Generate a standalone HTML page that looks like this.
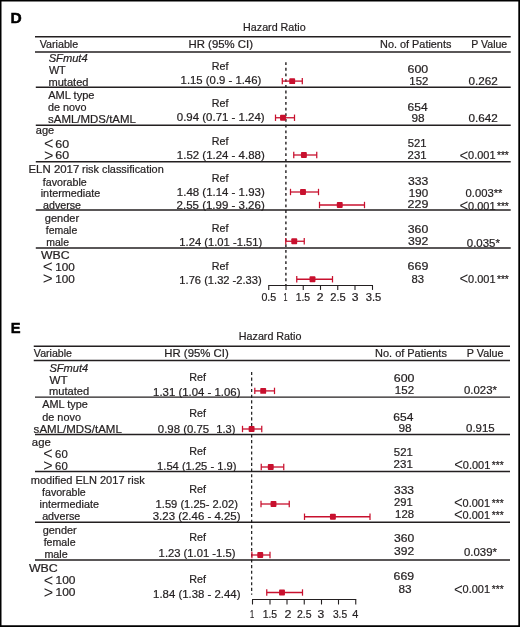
<!DOCTYPE html>
<html lang="en"><head><meta charset="utf-8"><title>Hazard Ratio forest plots</title>
<style>
html,body{margin:0;padding:0;background:#fff}
body{width:520px;height:627px;overflow:hidden;position:relative}
svg{position:absolute;left:0;top:0;display:block}
svg text{font-family:"Liberation Sans",Arial,Helvetica,sans-serif;font-size:11.0px;fill:#231f20;stroke:#231f20;stroke-width:0.22px}
</style></head><body>
<svg width="520" height="627" viewBox="0 0 520 627">
<text x="10.40" y="22.70" textLength="11.21" lengthAdjust="spacingAndGlyphs" font-weight="bold" style="font-size:13.9px;fill:#000;stroke:#000;stroke-width:0.45px">D</text>
<text x="243.07" y="30.95" textLength="62.61" lengthAdjust="spacingAndGlyphs">Hazard Ratio</text>
<line x1="35.00" y1="36.65" x2="510.70" y2="36.65" stroke="#231f20" stroke-width="1.5"/>
<line x1="35.00" y1="51.90" x2="510.70" y2="51.90" stroke="#231f20" stroke-width="1.5"/>
<text x="39.65" y="47.80" textLength="38.58" lengthAdjust="spacingAndGlyphs">Variable</text>
<text x="188.52" y="48.30" textLength="64.44" lengthAdjust="spacingAndGlyphs">HR (95% CI)</text>
<text x="380.06" y="48.30" textLength="71.34" lengthAdjust="spacingAndGlyphs">No. of Patients</text>
<text x="471.34" y="48.30" textLength="35.90" lengthAdjust="spacingAndGlyphs">P Value</text>
<line x1="35.80" y1="87.25" x2="510.70" y2="87.25" stroke="#231f20" stroke-width="1.45"/>
<line x1="35.80" y1="125.30" x2="510.70" y2="125.30" stroke="#231f20" stroke-width="1.45"/>
<line x1="35.80" y1="161.80" x2="510.70" y2="161.80" stroke="#231f20" stroke-width="1.45"/>
<line x1="35.80" y1="210.00" x2="510.70" y2="210.00" stroke="#231f20" stroke-width="1.45"/>
<line x1="35.80" y1="247.90" x2="510.70" y2="247.90" stroke="#231f20" stroke-width="1.45"/>
<text x="48.65" y="62.30" textLength="39.02" lengthAdjust="spacingAndGlyphs" font-style="italic">SFmut4</text>
<text x="48.90" y="73.95" textLength="16.85" lengthAdjust="spacingAndGlyphs">WT</text>
<text x="48.50" y="85.50" textLength="39.95" lengthAdjust="spacingAndGlyphs">mutated</text>
<text x="48.20" y="98.60" textLength="46.31" lengthAdjust="spacingAndGlyphs">AML type</text>
<text x="48.01" y="111.20" textLength="38.43" lengthAdjust="spacingAndGlyphs">de novo</text>
<text x="48.14" y="122.80" textLength="87.72" lengthAdjust="spacingAndGlyphs">sAML/MDS/tAML</text>
<text x="35.75" y="134.30" textLength="18.41" lengthAdjust="spacingAndGlyphs">age</text>
<text x="44.07" y="149.34" textLength="9.47" lengthAdjust="spacingAndGlyphs" style="font-size:15.6px;stroke:none">&lt;</text>
<text x="55.38" y="147.70" textLength="13.81" lengthAdjust="spacingAndGlyphs">60</text>
<text x="44.07" y="161.09" textLength="9.47" lengthAdjust="spacingAndGlyphs" style="font-size:15.6px;stroke:none">&gt;</text>
<text x="55.38" y="159.45" textLength="13.81" lengthAdjust="spacingAndGlyphs">60</text>
<text x="28.51" y="172.70" textLength="50.83" lengthAdjust="spacingAndGlyphs">ELN 2017</text>
<text x="82.01" y="172.70" textLength="81.71" lengthAdjust="spacingAndGlyphs">risk classification</text>
<text x="42.75" y="185.50" textLength="43.99" lengthAdjust="spacingAndGlyphs">favorable</text>
<text x="40.71" y="197.00" textLength="59.57" lengthAdjust="spacingAndGlyphs">intermediate</text>
<text x="43.01" y="209.10" textLength="38.01" lengthAdjust="spacingAndGlyphs">adverse</text>
<text x="44.75" y="221.80" textLength="34.46" lengthAdjust="spacingAndGlyphs">gender</text>
<text x="45.81" y="234.20" textLength="31.44" lengthAdjust="spacingAndGlyphs">female</text>
<text x="46.28" y="246.30" textLength="22.69" lengthAdjust="spacingAndGlyphs">male</text>
<text x="40.94" y="259.10" textLength="28.56" lengthAdjust="spacingAndGlyphs">WBC</text>
<text x="42.88" y="272.24" textLength="9.95" lengthAdjust="spacingAndGlyphs" style="font-size:15.6px;stroke:none">&lt;</text>
<text x="55.15" y="270.60" textLength="19.58" lengthAdjust="spacingAndGlyphs">100</text>
<text x="42.88" y="284.34" textLength="9.95" lengthAdjust="spacingAndGlyphs" style="font-size:15.6px;stroke:none">&gt;</text>
<text x="55.15" y="282.70" textLength="19.58" lengthAdjust="spacingAndGlyphs">100</text>
<text x="211.82" y="70.20" textLength="16.70" lengthAdjust="spacingAndGlyphs">Ref</text>
<text x="211.82" y="106.95" textLength="16.70" lengthAdjust="spacingAndGlyphs">Ref</text>
<text x="211.82" y="145.40" textLength="16.70" lengthAdjust="spacingAndGlyphs">Ref</text>
<text x="211.82" y="182.20" textLength="16.70" lengthAdjust="spacingAndGlyphs">Ref</text>
<text x="211.82" y="231.80" textLength="16.70" lengthAdjust="spacingAndGlyphs">Ref</text>
<text x="211.82" y="270.30" textLength="16.70" lengthAdjust="spacingAndGlyphs">Ref</text>
<text x="180.63" y="83.95" textLength="80.62" lengthAdjust="spacingAndGlyphs">1.15 (0.9 - 1.46)</text>
<text x="176.78" y="120.70" textLength="87.93" lengthAdjust="spacingAndGlyphs">0.94 (0.71 - 1.24)</text>
<text x="176.87" y="158.95" textLength="87.85" lengthAdjust="spacingAndGlyphs">1.52 (1.24 - 4.88)</text>
<text x="176.87" y="196.00" textLength="87.85" lengthAdjust="spacingAndGlyphs">1.48 (1.14 - 1.93)</text>
<text x="176.63" y="208.50" textLength="88.09" lengthAdjust="spacingAndGlyphs">2.55 (1.99 - 3.26)</text>
<text x="179.38" y="245.80" textLength="82.86" lengthAdjust="spacingAndGlyphs">1.24 (1.01 -1.51)</text>
<text x="179.39" y="284.00" textLength="82.35" lengthAdjust="spacingAndGlyphs">1.76 (1.32 -2.33)</text>
<text x="407.58" y="72.70" textLength="20.67" lengthAdjust="spacingAndGlyphs">600</text>
<text x="409.37" y="84.70" textLength="18.95" lengthAdjust="spacingAndGlyphs">152</text>
<text x="407.60" y="110.95" textLength="20.03" lengthAdjust="spacingAndGlyphs">654</text>
<text x="411.41" y="122.20" textLength="13.16" lengthAdjust="spacingAndGlyphs">98</text>
<text x="407.79" y="146.95" textLength="18.77" lengthAdjust="spacingAndGlyphs">521</text>
<text x="407.63" y="158.95" textLength="18.94" lengthAdjust="spacingAndGlyphs">231</text>
<text x="408.01" y="185.00" textLength="20.29" lengthAdjust="spacingAndGlyphs">333</text>
<text x="408.86" y="197.00" textLength="19.37" lengthAdjust="spacingAndGlyphs">190</text>
<text x="407.58" y="208.20" textLength="20.79" lengthAdjust="spacingAndGlyphs">229</text>
<text x="407.75" y="232.70" textLength="20.50" lengthAdjust="spacingAndGlyphs">360</text>
<text x="408.01" y="244.70" textLength="20.35" lengthAdjust="spacingAndGlyphs">392</text>
<text x="407.58" y="269.70" textLength="20.79" lengthAdjust="spacingAndGlyphs">669</text>
<text x="411.49" y="282.70" textLength="12.56" lengthAdjust="spacingAndGlyphs">83</text>
<text x="468.52" y="84.70" textLength="29.34" lengthAdjust="spacingAndGlyphs">0.262</text>
<text x="468.52" y="122.20" textLength="29.34" lengthAdjust="spacingAndGlyphs">0.642</text>
<text x="459.48" y="160.59" textLength="8.75" lengthAdjust="spacingAndGlyphs" style="font-size:15.6px;stroke:none">&lt;</text>
<text x="468.10" y="158.95" textLength="27.42" lengthAdjust="spacingAndGlyphs">0.001</text>
<text x="496.96" y="158.95" textLength="11.87" lengthAdjust="spacingAndGlyphs">***</text>
<text x="465.54" y="197.00" textLength="36.90" lengthAdjust="spacingAndGlyphs">0.003**</text>
<text x="459.48" y="211.14" textLength="8.75" lengthAdjust="spacingAndGlyphs" style="font-size:15.6px;stroke:none">&lt;</text>
<text x="468.10" y="209.50" textLength="27.42" lengthAdjust="spacingAndGlyphs">0.001</text>
<text x="496.96" y="209.50" textLength="11.87" lengthAdjust="spacingAndGlyphs">***</text>
<text x="466.78" y="246.95" textLength="33.13" lengthAdjust="spacingAndGlyphs">0.035*</text>
<text x="459.48" y="284.34" textLength="8.75" lengthAdjust="spacingAndGlyphs" style="font-size:15.6px;stroke:none">&lt;</text>
<text x="468.10" y="282.70" textLength="27.42" lengthAdjust="spacingAndGlyphs">0.001</text>
<text x="496.96" y="282.70" textLength="11.87" lengthAdjust="spacingAndGlyphs">***</text>
<line x1="285.90" y1="62.15" x2="285.90" y2="285.50" stroke="#231f20" stroke-width="1.4" stroke-dasharray="2.8 2.89"/>
<line x1="282.30" y1="81.10" x2="302.30" y2="81.10" stroke="#c8102e" stroke-width="1.3"/>
<line x1="282.30" y1="77.90" x2="282.30" y2="84.30" stroke="#c8102e" stroke-width="1.25"/>
<line x1="302.30" y1="77.90" x2="302.30" y2="84.30" stroke="#c8102e" stroke-width="1.25"/>
<rect x="289.25" y="78.15" width="5.9" height="5.9" rx="0.9" fill="#c8102e"/>
<line x1="275.50" y1="117.75" x2="294.50" y2="117.75" stroke="#c8102e" stroke-width="1.3"/>
<line x1="275.50" y1="114.55" x2="275.50" y2="120.95" stroke="#c8102e" stroke-width="1.25"/>
<line x1="294.50" y1="114.55" x2="294.50" y2="120.95" stroke="#c8102e" stroke-width="1.25"/>
<rect x="280.05" y="114.80" width="5.9" height="5.9" rx="0.9" fill="#c8102e"/>
<line x1="293.75" y1="155.00" x2="316.75" y2="155.00" stroke="#c8102e" stroke-width="1.3"/>
<line x1="293.75" y1="151.80" x2="293.75" y2="158.20" stroke="#c8102e" stroke-width="1.25"/>
<line x1="316.75" y1="151.80" x2="316.75" y2="158.20" stroke="#c8102e" stroke-width="1.25"/>
<rect x="300.95" y="152.05" width="5.9" height="5.9" rx="0.9" fill="#c8102e"/>
<line x1="290.50" y1="192.00" x2="318.50" y2="192.00" stroke="#c8102e" stroke-width="1.3"/>
<line x1="290.50" y1="188.80" x2="290.50" y2="195.20" stroke="#c8102e" stroke-width="1.25"/>
<line x1="318.50" y1="188.80" x2="318.50" y2="195.20" stroke="#c8102e" stroke-width="1.25"/>
<rect x="300.05" y="189.05" width="5.9" height="5.9" rx="0.9" fill="#c8102e"/>
<line x1="319.50" y1="205.00" x2="364.50" y2="205.00" stroke="#c8102e" stroke-width="1.3"/>
<line x1="319.50" y1="201.80" x2="319.50" y2="208.20" stroke="#c8102e" stroke-width="1.25"/>
<line x1="364.50" y1="201.80" x2="364.50" y2="208.20" stroke="#c8102e" stroke-width="1.25"/>
<rect x="336.80" y="202.05" width="5.9" height="5.9" rx="0.9" fill="#c8102e"/>
<line x1="285.75" y1="241.25" x2="304.25" y2="241.25" stroke="#c8102e" stroke-width="1.3"/>
<line x1="285.75" y1="238.05" x2="285.75" y2="244.45" stroke="#c8102e" stroke-width="1.25"/>
<line x1="304.25" y1="238.05" x2="304.25" y2="244.45" stroke="#c8102e" stroke-width="1.25"/>
<rect x="291.30" y="238.30" width="5.9" height="5.9" rx="0.9" fill="#c8102e"/>
<line x1="296.75" y1="279.25" x2="332.50" y2="279.25" stroke="#c8102e" stroke-width="1.3"/>
<line x1="296.75" y1="276.05" x2="296.75" y2="282.45" stroke="#c8102e" stroke-width="1.25"/>
<line x1="332.50" y1="276.05" x2="332.50" y2="282.45" stroke="#c8102e" stroke-width="1.25"/>
<rect x="309.55" y="276.30" width="5.9" height="5.9" rx="0.9" fill="#c8102e"/>
<line x1="268.25" y1="285.50" x2="373.00" y2="285.50" stroke="#231f20" stroke-width="1.1"/>
<line x1="268.75" y1="285.50" x2="268.75" y2="289.90" stroke="#231f20" stroke-width="1.1"/>
<line x1="286.00" y1="285.50" x2="286.00" y2="289.90" stroke="#231f20" stroke-width="1.1"/>
<line x1="303.25" y1="285.50" x2="303.25" y2="289.90" stroke="#231f20" stroke-width="1.1"/>
<line x1="320.50" y1="285.50" x2="320.50" y2="289.90" stroke="#231f20" stroke-width="1.1"/>
<line x1="337.75" y1="285.50" x2="337.75" y2="289.90" stroke="#231f20" stroke-width="1.1"/>
<line x1="355.00" y1="285.50" x2="355.00" y2="289.90" stroke="#231f20" stroke-width="1.1"/>
<line x1="372.50" y1="285.50" x2="372.50" y2="289.90" stroke="#231f20" stroke-width="1.1"/>
<text x="261.41" y="301.20" textLength="14.82" lengthAdjust="spacingAndGlyphs">0.5</text>
<text x="283.38" y="301.20" textLength="3.95" lengthAdjust="spacingAndGlyphs">1</text>
<text x="295.64" y="301.20" textLength="14.48" lengthAdjust="spacingAndGlyphs">1.5</text>
<text x="316.89" y="301.20" textLength="6.78" lengthAdjust="spacingAndGlyphs">2</text>
<text x="330.24" y="301.20" textLength="15.51" lengthAdjust="spacingAndGlyphs">2.5</text>
<text x="351.86" y="301.20" textLength="6.76" lengthAdjust="spacingAndGlyphs">3</text>
<text x="365.79" y="301.20" textLength="15.56" lengthAdjust="spacingAndGlyphs">3.5</text>
<text x="10.85" y="332.80" textLength="9.80" lengthAdjust="spacingAndGlyphs" font-weight="bold" style="font-size:14.7px;fill:#000;stroke:#000;stroke-width:0.45px">E</text>
<text x="238.82" y="339.70" textLength="62.61" lengthAdjust="spacingAndGlyphs">Hazard Ratio</text>
<line x1="33.75" y1="346.15" x2="510.00" y2="346.15" stroke="#231f20" stroke-width="1.5"/>
<line x1="33.75" y1="360.40" x2="510.00" y2="360.40" stroke="#231f20" stroke-width="1.5"/>
<text x="33.85" y="357.40" textLength="38.18" lengthAdjust="spacingAndGlyphs">Variable</text>
<text x="164.27" y="357.20" textLength="64.44" lengthAdjust="spacingAndGlyphs">HR (95% CI)</text>
<text x="375.05" y="357.20" textLength="71.85" lengthAdjust="spacingAndGlyphs">No. of Patients</text>
<text x="466.82" y="357.20" textLength="36.68" lengthAdjust="spacingAndGlyphs">P Value</text>
<line x1="35.00" y1="397.10" x2="510.00" y2="397.10" stroke="#231f20" stroke-width="1.45"/>
<line x1="35.00" y1="434.40" x2="510.00" y2="434.40" stroke="#231f20" stroke-width="1.45"/>
<line x1="35.00" y1="471.40" x2="510.00" y2="471.40" stroke="#231f20" stroke-width="1.45"/>
<line x1="35.00" y1="522.30" x2="510.00" y2="522.30" stroke="#231f20" stroke-width="1.45"/>
<line x1="35.00" y1="560.00" x2="510.00" y2="560.00" stroke="#231f20" stroke-width="1.45"/>
<text x="49.40" y="372.30" textLength="38.77" lengthAdjust="spacingAndGlyphs" font-style="italic">SFmut4</text>
<text x="49.55" y="383.80" textLength="18.07" lengthAdjust="spacingAndGlyphs">WT</text>
<text x="48.99" y="395.20" textLength="40.21" lengthAdjust="spacingAndGlyphs">mutated</text>
<text x="42.20" y="408.00" textLength="45.55" lengthAdjust="spacingAndGlyphs">AML type</text>
<text x="42.26" y="420.95" textLength="38.69" lengthAdjust="spacingAndGlyphs">de novo</text>
<text x="33.64" y="432.70" textLength="88.23" lengthAdjust="spacingAndGlyphs">sAML/MDS/tAML</text>
<text x="31.84" y="445.60" textLength="18.93" lengthAdjust="spacingAndGlyphs">age</text>
<text x="43.18" y="459.34" textLength="9.41" lengthAdjust="spacingAndGlyphs" style="font-size:15.6px;stroke:none">&lt;</text>
<text x="55.13" y="457.70" textLength="12.62" lengthAdjust="spacingAndGlyphs">60</text>
<text x="43.18" y="471.34" textLength="9.41" lengthAdjust="spacingAndGlyphs" style="font-size:15.6px;stroke:none">&gt;</text>
<text x="55.13" y="469.70" textLength="12.62" lengthAdjust="spacingAndGlyphs">60</text>
<text x="30.75" y="484.45" textLength="113.98" lengthAdjust="spacingAndGlyphs">modified ELN 2017 risk</text>
<text x="42.06" y="496.00" textLength="43.68" lengthAdjust="spacingAndGlyphs">favorable</text>
<text x="39.51" y="508.00" textLength="59.51" lengthAdjust="spacingAndGlyphs">intermediate</text>
<text x="42.16" y="519.60" textLength="38.11" lengthAdjust="spacingAndGlyphs">adverse</text>
<text x="42.75" y="533.60" textLength="33.95" lengthAdjust="spacingAndGlyphs">gender</text>
<text x="43.66" y="546.30" textLength="31.90" lengthAdjust="spacingAndGlyphs">female</text>
<text x="44.42" y="558.20" textLength="23.32" lengthAdjust="spacingAndGlyphs">male</text>
<text x="28.94" y="572.40" textLength="28.82" lengthAdjust="spacingAndGlyphs">WBC</text>
<text x="43.68" y="585.59" textLength="9.41" lengthAdjust="spacingAndGlyphs" style="font-size:15.6px;stroke:none">&lt;</text>
<text x="55.53" y="583.95" textLength="20.01" lengthAdjust="spacingAndGlyphs">100</text>
<text x="43.68" y="597.59" textLength="9.41" lengthAdjust="spacingAndGlyphs" style="font-size:15.6px;stroke:none">&gt;</text>
<text x="55.53" y="595.95" textLength="20.01" lengthAdjust="spacingAndGlyphs">100</text>
<text x="189.32" y="380.95" textLength="16.70" lengthAdjust="spacingAndGlyphs">Ref</text>
<text x="189.32" y="416.95" textLength="16.70" lengthAdjust="spacingAndGlyphs">Ref</text>
<text x="189.32" y="455.20" textLength="16.70" lengthAdjust="spacingAndGlyphs">Ref</text>
<text x="189.32" y="493.20" textLength="16.70" lengthAdjust="spacingAndGlyphs">Ref</text>
<text x="189.32" y="541.45" textLength="16.70" lengthAdjust="spacingAndGlyphs">Ref</text>
<text x="189.32" y="583.45" textLength="16.70" lengthAdjust="spacingAndGlyphs">Ref</text>
<text x="153.12" y="396.20" textLength="87.34" lengthAdjust="spacingAndGlyphs">1.31 (1.04 - 1.06)</text>
<text x="157.89" y="432.80" textLength="51.27" lengthAdjust="spacingAndGlyphs">0.98 (0.75</text>
<text x="216.29" y="432.80" textLength="19.17" lengthAdjust="spacingAndGlyphs">1.3)</text>
<text x="157.09" y="470.20" textLength="79.39" lengthAdjust="spacingAndGlyphs">1.54 (1.25 - 1.9)</text>
<text x="155.64" y="507.70" textLength="82.35" lengthAdjust="spacingAndGlyphs">1.59 (1.25- 2.02)</text>
<text x="152.78" y="519.70" textLength="87.68" lengthAdjust="spacingAndGlyphs">3.23 (2.46 - 4.25)</text>
<text x="158.63" y="556.95" textLength="76.85" lengthAdjust="spacingAndGlyphs">1.23 (1.01 -1.5)</text>
<text x="153.12" y="598.20" textLength="87.34" lengthAdjust="spacingAndGlyphs">1.84 (1.38 - 2.44)</text>
<text x="393.83" y="382.20" textLength="20.67" lengthAdjust="spacingAndGlyphs">600</text>
<text x="394.86" y="394.45" textLength="19.22" lengthAdjust="spacingAndGlyphs">152</text>
<text x="393.35" y="420.70" textLength="20.03" lengthAdjust="spacingAndGlyphs">654</text>
<text x="398.41" y="432.20" textLength="13.16" lengthAdjust="spacingAndGlyphs">98</text>
<text x="393.79" y="456.45" textLength="19.04" lengthAdjust="spacingAndGlyphs">521</text>
<text x="393.62" y="468.45" textLength="19.20" lengthAdjust="spacingAndGlyphs">231</text>
<text x="394.01" y="493.95" textLength="20.03" lengthAdjust="spacingAndGlyphs">333</text>
<text x="394.14" y="506.45" textLength="18.67" lengthAdjust="spacingAndGlyphs">291</text>
<text x="395.13" y="517.70" textLength="18.89" lengthAdjust="spacingAndGlyphs">128</text>
<text x="394.01" y="542.20" textLength="20.24" lengthAdjust="spacingAndGlyphs">360</text>
<text x="394.01" y="554.70" textLength="20.09" lengthAdjust="spacingAndGlyphs">392</text>
<text x="393.58" y="580.20" textLength="20.53" lengthAdjust="spacingAndGlyphs">669</text>
<text x="398.47" y="592.70" textLength="13.10" lengthAdjust="spacingAndGlyphs">83</text>
<text x="464.04" y="394.45" textLength="32.88" lengthAdjust="spacingAndGlyphs">0.023*</text>
<text x="466.03" y="432.20" textLength="28.71" lengthAdjust="spacingAndGlyphs">0.915</text>
<text x="454.23" y="470.49" textLength="8.75" lengthAdjust="spacingAndGlyphs" style="font-size:15.6px;stroke:none">&lt;</text>
<text x="462.85" y="468.85" textLength="27.42" lengthAdjust="spacingAndGlyphs">0.001</text>
<text x="491.81" y="468.85" textLength="11.87" lengthAdjust="spacingAndGlyphs">***</text>
<text x="453.98" y="508.49" textLength="8.75" lengthAdjust="spacingAndGlyphs" style="font-size:15.6px;stroke:none">&lt;</text>
<text x="462.60" y="506.85" textLength="27.42" lengthAdjust="spacingAndGlyphs">0.001</text>
<text x="491.81" y="506.85" textLength="11.87" lengthAdjust="spacingAndGlyphs">***</text>
<text x="453.98" y="520.24" textLength="8.75" lengthAdjust="spacingAndGlyphs" style="font-size:15.6px;stroke:none">&lt;</text>
<text x="462.60" y="518.60" textLength="27.42" lengthAdjust="spacingAndGlyphs">0.001</text>
<text x="491.81" y="518.60" textLength="11.87" lengthAdjust="spacingAndGlyphs">***</text>
<text x="464.04" y="556.45" textLength="32.88" lengthAdjust="spacingAndGlyphs">0.039*</text>
<text x="453.98" y="594.74" textLength="8.75" lengthAdjust="spacingAndGlyphs" style="font-size:15.6px;stroke:none">&lt;</text>
<text x="462.60" y="593.10" textLength="27.42" lengthAdjust="spacingAndGlyphs">0.001</text>
<text x="491.81" y="593.10" textLength="11.87" lengthAdjust="spacingAndGlyphs">***</text>
<line x1="251.68" y1="371.90" x2="251.68" y2="594.80" stroke="#111" stroke-width="1.15" stroke-dasharray="3.1 2.582"/>
<line x1="254.80" y1="390.90" x2="274.50" y2="390.90" stroke="#c8102e" stroke-width="1.3"/>
<line x1="254.80" y1="387.70" x2="254.80" y2="394.10" stroke="#c8102e" stroke-width="1.25"/>
<line x1="274.50" y1="387.70" x2="274.50" y2="394.10" stroke="#c8102e" stroke-width="1.25"/>
<rect x="260.25" y="387.95" width="5.9" height="5.9" rx="0.9" fill="#c8102e"/>
<line x1="242.50" y1="429.00" x2="261.75" y2="429.00" stroke="#c8102e" stroke-width="1.3"/>
<line x1="242.50" y1="425.80" x2="242.50" y2="432.20" stroke="#c8102e" stroke-width="1.25"/>
<line x1="261.75" y1="425.80" x2="261.75" y2="432.20" stroke="#c8102e" stroke-width="1.25"/>
<rect x="248.65" y="426.05" width="5.9" height="5.9" rx="0.9" fill="#c8102e"/>
<line x1="261.25" y1="467.00" x2="283.75" y2="467.00" stroke="#c8102e" stroke-width="1.3"/>
<line x1="261.25" y1="463.80" x2="261.25" y2="470.20" stroke="#c8102e" stroke-width="1.25"/>
<line x1="283.75" y1="463.80" x2="283.75" y2="470.20" stroke="#c8102e" stroke-width="1.25"/>
<rect x="267.80" y="464.05" width="5.9" height="5.9" rx="0.9" fill="#c8102e"/>
<line x1="261.00" y1="504.00" x2="289.25" y2="504.00" stroke="#c8102e" stroke-width="1.3"/>
<line x1="261.00" y1="500.80" x2="261.00" y2="507.20" stroke="#c8102e" stroke-width="1.25"/>
<line x1="289.25" y1="500.80" x2="289.25" y2="507.20" stroke="#c8102e" stroke-width="1.25"/>
<rect x="270.55" y="501.05" width="5.9" height="5.9" rx="0.9" fill="#c8102e"/>
<line x1="304.50" y1="516.75" x2="370.00" y2="516.75" stroke="#c8102e" stroke-width="1.3"/>
<line x1="304.50" y1="513.55" x2="304.50" y2="519.95" stroke="#c8102e" stroke-width="1.25"/>
<line x1="370.00" y1="513.55" x2="370.00" y2="519.95" stroke="#c8102e" stroke-width="1.25"/>
<rect x="329.95" y="513.80" width="5.9" height="5.9" rx="0.9" fill="#c8102e"/>
<line x1="251.90" y1="555.00" x2="270.00" y2="555.00" stroke="#c8102e" stroke-width="1.3"/>
<line x1="251.90" y1="551.80" x2="251.90" y2="558.20" stroke="#c8102e" stroke-width="1.25"/>
<line x1="270.00" y1="551.80" x2="270.00" y2="558.20" stroke="#c8102e" stroke-width="1.25"/>
<rect x="257.30" y="552.05" width="5.9" height="5.9" rx="0.9" fill="#c8102e"/>
<line x1="266.75" y1="592.50" x2="302.50" y2="592.50" stroke="#c8102e" stroke-width="1.3"/>
<line x1="266.75" y1="589.30" x2="266.75" y2="595.70" stroke="#c8102e" stroke-width="1.25"/>
<line x1="302.50" y1="589.30" x2="302.50" y2="595.70" stroke="#c8102e" stroke-width="1.25"/>
<rect x="279.05" y="589.55" width="5.9" height="5.9" rx="0.9" fill="#c8102e"/>
<line x1="252.00" y1="599.50" x2="356.25" y2="599.50" stroke="#231f20" stroke-width="1.1"/>
<line x1="252.50" y1="599.50" x2="252.50" y2="604.50" stroke="#231f20" stroke-width="1.1"/>
<line x1="270.00" y1="599.50" x2="270.00" y2="604.50" stroke="#231f20" stroke-width="1.1"/>
<line x1="287.00" y1="599.50" x2="287.00" y2="604.50" stroke="#231f20" stroke-width="1.1"/>
<line x1="304.25" y1="599.50" x2="304.25" y2="604.50" stroke="#231f20" stroke-width="1.1"/>
<line x1="321.50" y1="599.50" x2="321.50" y2="604.50" stroke="#231f20" stroke-width="1.1"/>
<line x1="338.50" y1="599.50" x2="338.50" y2="604.50" stroke="#231f20" stroke-width="1.1"/>
<line x1="355.75" y1="599.50" x2="355.75" y2="604.50" stroke="#231f20" stroke-width="1.1"/>
<text x="249.95" y="617.70" textLength="4.16" lengthAdjust="spacingAndGlyphs" style="font-size:11.5px;">1</text>
<text x="262.63" y="617.70" textLength="14.57" lengthAdjust="spacingAndGlyphs" style="font-size:11.5px;">1.5</text>
<text x="284.40" y="617.70" textLength="6.94" lengthAdjust="spacingAndGlyphs" style="font-size:11.5px;">2</text>
<text x="297.00" y="617.70" textLength="14.60" lengthAdjust="spacingAndGlyphs" style="font-size:11.5px;">2.5</text>
<text x="317.58" y="617.70" textLength="6.74" lengthAdjust="spacingAndGlyphs" style="font-size:11.5px;">3</text>
<text x="332.89" y="617.70" textLength="14.30" lengthAdjust="spacingAndGlyphs" style="font-size:11.5px;">3.5</text>
<text x="352.16" y="617.70" textLength="6.12" lengthAdjust="spacingAndGlyphs" style="font-size:11.5px;">4</text>
<path d="M0 0H520V627H0Z M1.5 1.4V625.15H518.3V1.4Z" fill="#000" fill-rule="evenodd"/>
</svg>
</body></html>
